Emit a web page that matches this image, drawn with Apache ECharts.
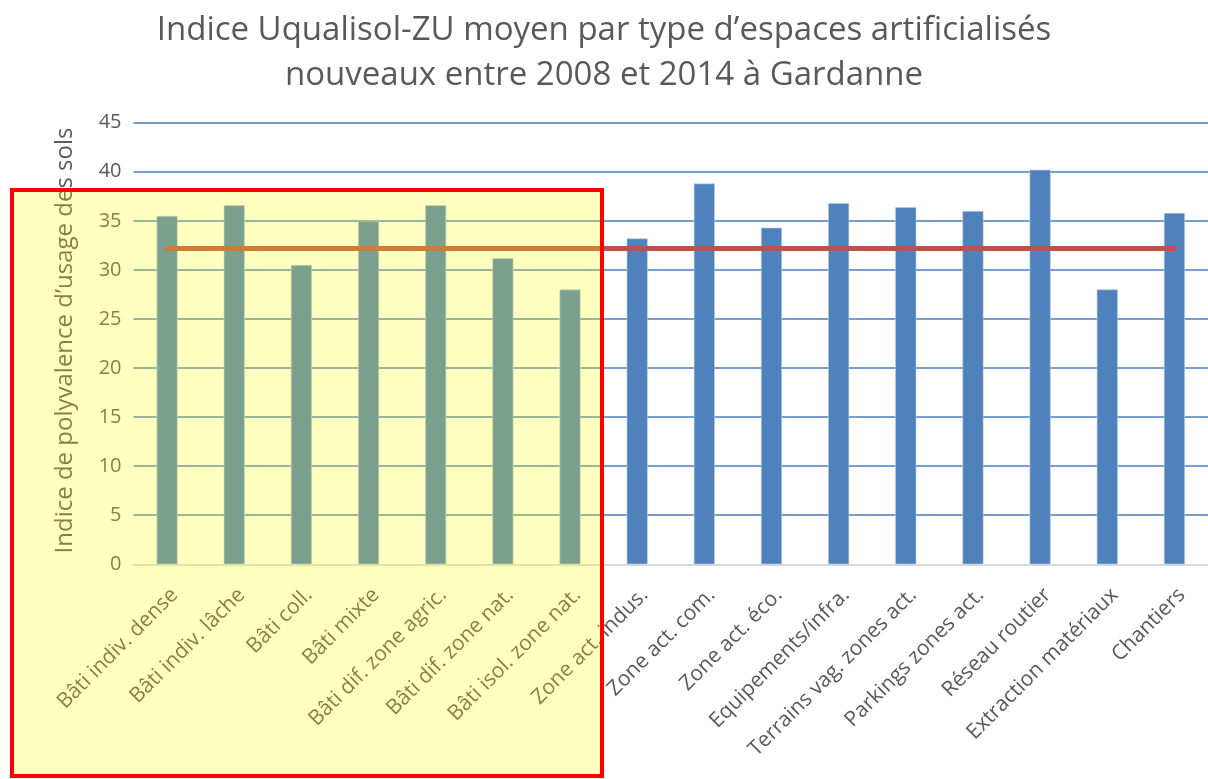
<!DOCTYPE html>
<html lang="fr">
<head>
<meta charset="utf-8">
<title>Indice Uqualisol-ZU moyen – Gardanne</title>
<script src="https://cdn.jsdelivr.net/npm/echarts@6/dist/echarts.min.js"></script>
<style>
  html, body { margin: 0; padding: 0; background: #fff; }
  #chart { width: 1208px; height: 779px; }
</style>
</head>
<body>
<div id="chart"></div>
<script>
// Types d'espaces artificialisés nouveaux (2008–2014)
const categories = [
  'Bâti indiv. dense', 'Bâti indiv. lâche', 'Bâti coll.', 'Bâti mixte',
  'Bâti dif. zone agric.', 'Bâti dif. zone nat.', 'Bâti isol. zone nat.',
  'Zone act. indus.', 'Zone act. com.', 'Zone act. éco.', 'Equipements/infra.',
  'Terrains vag. zones act.', 'Parkings zones act.', 'Réseau routier',
  'Extraction matériaux', 'Chantiers'
];

// Indice Uqualisol-ZU moyen par type
const indiceMoyen = [
  35.5, 36.6, 30.5, 35.0, 36.6, 31.2, 28.0,
  33.2, 38.8, 34.3, 36.8, 36.4, 36.0, 40.2, 28.0, 35.8
];

// Valeur de référence tracée en ligne horizontale
const indiceReference = 32.2;

// Graduations de l'axe des valeurs
const yMin = 0, yMax = 45, yStep = 5;

const textColor = '#595959';
const fontFamily = '"Open Sans", "Noto Sans", sans-serif';

const chart = echarts.init(document.getElementById('chart'), null, { renderer: 'canvas' });

chart.setOption({
  backgroundColor: '#ffffff',
  animation: false,
  title: {
    text: 'Indice Uqualisol-ZU moyen par type d’espaces artificialisés\nnouveaux entre 2008 et 2014 à Gardanne',
    left: 'center',
    top: 3,
    textStyle: {
      color: textColor,
      fontFamily: fontFamily,
      fontWeight: 'normal',
      fontSize: 33,
      lineHeight: 45
    }
  },
  grid: {
    left: 133.5,
    right: -15,
    top: 122.7,
    bottom: 214.7,
    containLabel: false
  },
  xAxis: {
    type: 'category',
    data: categories,
    axisTick: { show: false },
    axisLine: { show: true, lineStyle: { color: '#D9D9D9', width: 2 } },
    axisLabel: {
      interval: 0,
      rotate: 45,
      margin: 20,
      verticalAlign: 'top',
      color: textColor,
      fontFamily: fontFamily,
      fontSize: 21
    }
  },
  yAxis: {
    type: 'value',
    min: yMin,
    max: yMax,
    interval: yStep,
    name: 'Indice de polyvalence d’usage des sols',
    nameLocation: 'middle',
    nameRotate: 90,
    nameGap: 56,
    nameTextStyle: {
      color: textColor,
      fontFamily: fontFamily,
      fontSize: 24,
      padding: [0, 0, 0, 6]
    },
    axisLine: { show: false },
    axisTick: { show: false },
    axisLabel: {
      margin: 12,
      color: textColor,
      fontFamily: fontFamily,
      fontSize: 20
    },
    splitLine: {
      show: true,
      lineStyle: { color: '#4A7EBB', width: 1.5 }
    }
  },
  series: [
    {
      name: 'Indice moyen',
      type: 'bar',
      data: indiceMoyen,
      barWidth: 21,
      itemStyle: {
        color: '#4F81BD',
        borderColor: '#B9CDE5',
        borderWidth: 0.6
      },
      markLine: {
        silent: true,
        symbol: ['none', 'none'],
        label: { show: false },
        lineStyle: { color: '#C0504D', width: 5, type: 'solid', cap: 'round' },
        data: [[
          { coord: [categories[0], indiceReference] },
          { coord: [categories[categories.length - 1], indiceReference] }
        ]]
      }
    }
  ],
  graphic: [
    {
      type: 'rect',
      z: 100,
      silent: true,
      shape: { x: 12, y: 190, width: 590, height: 586 },
      style: {
        fill: 'rgba(255, 255, 0, 0.25)',
        stroke: '#FF0000',
        lineWidth: 4
      }
    }
  ]
});
</script>
</body>
</html>
